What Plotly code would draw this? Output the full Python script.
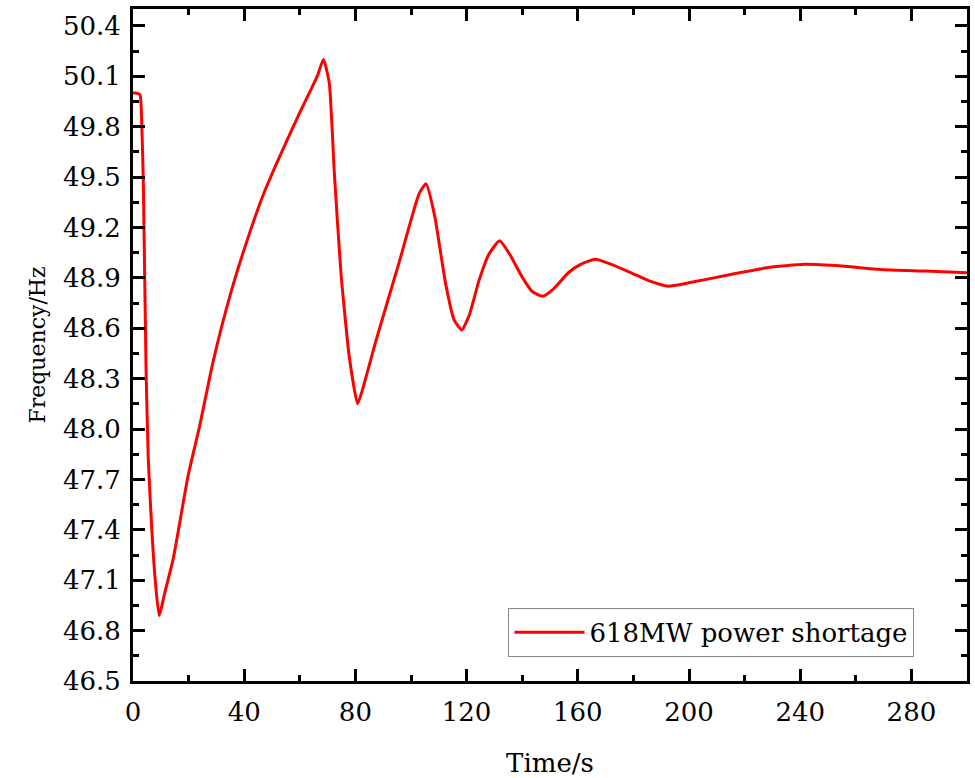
import plotly.graph_objects as go

time_s = [0, 1, 2.5, 3.1, 3.7, 4.7, 5.5, 6.7, 7.9, 9.4, 11.5, 14.5, 19.8, 24, 28.8, 35,
          41.2, 47, 52.7, 59.9, 64, 66.3, 68.5, 70.6, 72.4, 74.8, 77.8, 80.8, 83.5, 87.3,
          95.7, 102.9, 105.4, 108.5, 112.4, 115.5, 118.3, 121, 124.4, 128, 131.9, 135.5,
          139.8, 143.5, 147.3, 151, 156.6, 161, 166.3, 172, 179.2, 186, 192.5, 200, 215,
          228, 241.6, 255, 268.8, 285, 300]
freq_hz = [50.00, 50.00, 49.99, 49.84, 49.48, 48.35, 47.82, 47.42, 47.12, 46.89, 47.03,
           47.23, 47.72, 48.02, 48.40, 48.80, 49.13, 49.40, 49.62, 49.88, 50.02, 50.10,
           50.20, 50.06, 49.53, 48.93, 48.43, 48.15, 48.29, 48.52, 48.99, 49.40, 49.46,
           49.27, 48.87, 48.65, 48.59, 48.68, 48.88, 49.04, 49.12, 49.04, 48.91, 48.82,
           48.79, 48.83, 48.93, 48.98, 49.01, 48.98, 48.93, 48.88, 48.85, 48.87, 48.92,
           48.96, 48.98, 48.97, 48.95, 48.94, 48.93]
series_name = "618MW power shortage"

x_ticks = [0, 40, 80, 120, 160, 200, 240, 280]
x_ticklabels = ["0", "40", "80", "120", "160", "200", "240", "280"]
y_ticks = [46.5, 46.8, 47.1, 47.4, 47.7, 48.0, 48.3, 48.6, 48.9, 49.2, 49.5, 49.8, 50.1, 50.4]
y_ticklabels = ["46.5", "46.8", "47.1", "47.4", "47.7", "48.0", "48.3", "48.6", "48.9",
                "49.2", "49.5", "49.8", "50.1", "50.4"]

FONT = "DejaVu Serif"

fig = go.Figure()
fig.add_trace(go.Scatter(
    x=time_s, y=freq_hz, mode="lines", name=series_name,
    line=dict(color="#FF0000", width=3, shape="spline", smoothing=0.5),
))

axis_common = dict(
    showline=True, linecolor="black", linewidth=3, mirror="ticks",
    ticks="inside", ticklen=12, tickwidth=3, tickcolor="black",
    showgrid=False, zeroline=False,
    tickfont=dict(family=FONT, size=26, color="black"),
)

fig.update_xaxes(
    range=[0, 300], tickvals=x_ticks, ticktext=x_ticklabels,
    minor=dict(dtick=20, tick0=0, ticks="inside", ticklen=6, tickwidth=3, tickcolor="black"),
    title=dict(text="Time/s", font=dict(family=FONT, size=26, color="black"), standoff=28),
    ticklabelstandoff=6,
    **axis_common,
)
fig.update_yaxes(
    range=[46.5, 50.5], tickvals=y_ticks, ticktext=y_ticklabels,
    minor=dict(dtick=0.15, tick0=46.5, ticks="inside", ticklen=6, tickwidth=3, tickcolor="black"),
    title=dict(text="Frequency/Hz", font=dict(family=FONT, size=22, color="black"), standoff=12),
    ticklabelstandoff=4,
    **axis_common,
)

fig.update_layout(
    width=975, height=778,
    margin=dict(l=133, r=5, t=9, b=95),
    paper_bgcolor="white", plot_bgcolor="white",
    showlegend=True,
    legend=dict(
        x=0.937, y=0.036, xanchor="right", yanchor="bottom",
        bgcolor="white", bordercolor="#888888", borderwidth=1,
        font=dict(family=FONT, size=26, color="black"),
        itemwidth=70, tracegroupgap=0,
    ),
)

fig.write_html("out.html")
